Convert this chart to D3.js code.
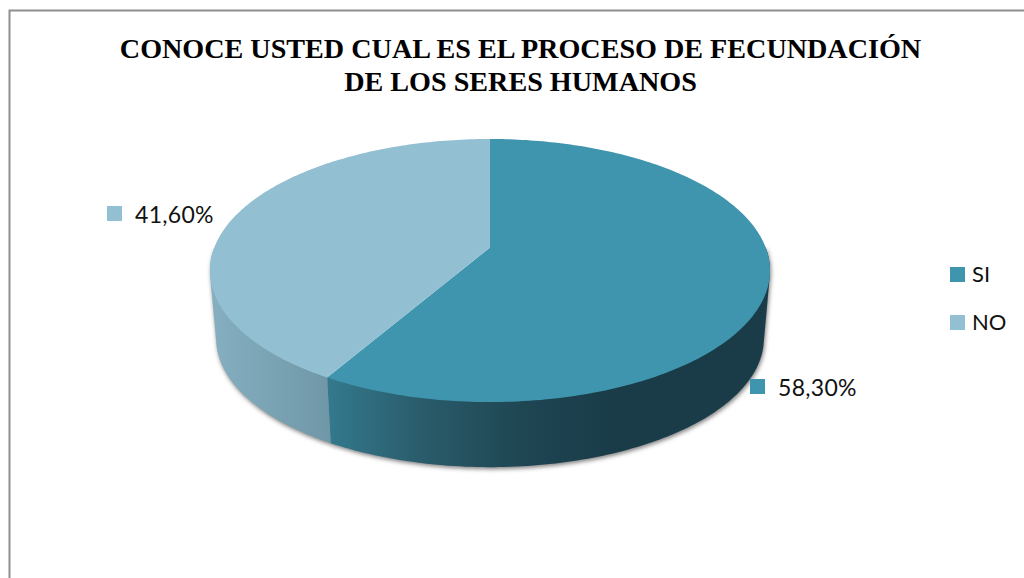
<!DOCTYPE html>
<html><head><meta charset="utf-8">
<script src="https://cdn.jsdelivr.net/npm/d3@7"></script>
<style>html,body{margin:0;padding:0;background:#fff;overflow:hidden}</style>
</head><body><svg id="c" width="1024" height="578"></svg>
<script>
const categories = ["SI","NO"];
const values = [58.3,41.6];
const valueLabels = ["58,30%","41,60%"];
const titleLines = ["CONOCE USTED CUAL ES EL PROCESO DE FECUNDACIÓN","DE LOS SERES HUMANOS"];
const colors = ["#4095ae","#92c0d2"];
const sideStops = [["#33788c","#2a5c6b","#1f4653","#1a3c49","#1a3c49"],["#85afc1","#7aa3b4","#6f97a7"]];
const sideX = [[331,420,520,610,770],[213,270,331]];

const svg = d3.select("#c");
const W=1024,H=578;
svg.append("rect").attr("width",W).attr("height",H).attr("fill","#fff");
svg.append("path").attr("d",`M9.5,${H}V10.5H${W}`).attr("fill","none").attr("stroke","#8e8e8e").attr("stroke-width",2);

const defs=svg.append("defs");
const f=defs.append("filter").attr("id","sh").attr("x","-10%").attr("y","-10%").attr("width","120%").attr("height","120%");
f.append("feGaussianBlur").attr("stdDeviation",2);

// perspective projection of the pie disc
const cx=490, y0=247.5, a=127.5, b=275.7, k=-0.175;
const s=0.978, yBottom=316;
function topPt(t){const u=Math.sin(t),v=-Math.cos(t),d=1+k*v;return [cx+b*u/d,y0+a*v/d];}
function botPt(t){const u=Math.sin(t),v=-Math.cos(t),d=1+k*v;return [cx+s*b*u/d,yBottom+s*a*v/d];}
const pie=d3.pie().sort(null).value(d=>d);
const arcs=pie(values);
const step=Math.PI/180;
const range=(x0,x1)=>{const n=Math.max(2,Math.ceil((x1-x0)/step));return d3.range(n+1).map(i=>x0+(x1-x0)*i/n);};
const line=d3.line();

// side walls: convex hull of the front-facing span of each slice
const visFrom=90*Math.PI/180, visTo=270*Math.PI/180;
const hulls=arcs.map(d=>{
  const r=range(Math.max(d.startAngle,visFrom),Math.min(d.endAngle,visTo));
  return d3.polygonHull([...r.map(topPt),...r.map(botPt)]);
});

// soft shadow under the body
svg.append("g").attr("transform","translate(1,2)").attr("filter","url(#sh)")
  .selectAll("path").data(hulls).join("path")
  .attr("d",h=>line(h)+"Z")
  .attr("fill","#555").attr("fill-opacity",.75);

arcs.forEach((d,i)=>{
  const dom=d3.extent(sideX[i]);
  const off=d3.scaleLinear().domain(dom).range([0,1]);
  const g=defs.append("linearGradient").attr("id","side"+i).attr("gradientUnits","userSpaceOnUse")
    .attr("x1",dom[0]).attr("x2",dom[1]).attr("y1",0).attr("y2",0);
  sideX[i].forEach((x,j)=>g.append("stop").attr("offset",off(x)).attr("stop-color",sideStops[i][j]));
  svg.append("path").attr("d",line(hulls[i])+"Z").attr("fill",`url(#side${i})`);
});

// top face
svg.append("g").selectAll("path").data(arcs).join("path")
  .attr("d",d=>line([[cx,y0],...range(d.startAngle,d.endAngle).map(topPt)])+"Z")
  .attr("fill",(d,i)=>colors[i]);

// title
const title=svg.append("g").attr("font-family","'Liberation Serif'").attr("font-weight","bold").attr("font-size",28.15).attr("fill","#000").attr("text-anchor","middle");
title.selectAll("text").data(titleLines).join("text")
  .attr("x",520.5).attr("y",(d,i)=>i?91:58).text(d=>d);

// data labels and legend
const font="Lato";
const labelPos=[[750,379,778,396],[107,206,135,223]];
const lab=svg.append("g");
labelPos.forEach((p,i)=>{
  lab.append("rect").attr("x",p[0]).attr("y",p[1]).attr("width",15).attr("height",15).attr("fill",colors[i]);
  lab.append("text").attr("x",p[2]).attr("y",p[3]).attr("font-family",font).attr("font-size",23).attr("letter-spacing",.3).attr("fill","#111").text(valueLabels[i]);
});
const legY=d3.scalePoint().domain(categories).range([274.5,322.5]);
const leg=svg.append("g");
categories.forEach((c,i)=>{
  leg.append("rect").attr("x",950).attr("y",legY(c)-7.5).attr("width",15).attr("height",15).attr("fill",colors[i]);
  leg.append("text").attr("x",972).attr("y",legY(c)+7.8).attr("font-family",font).attr("font-size",22).attr("fill","#111").text(c);
});
</script></body></html>
